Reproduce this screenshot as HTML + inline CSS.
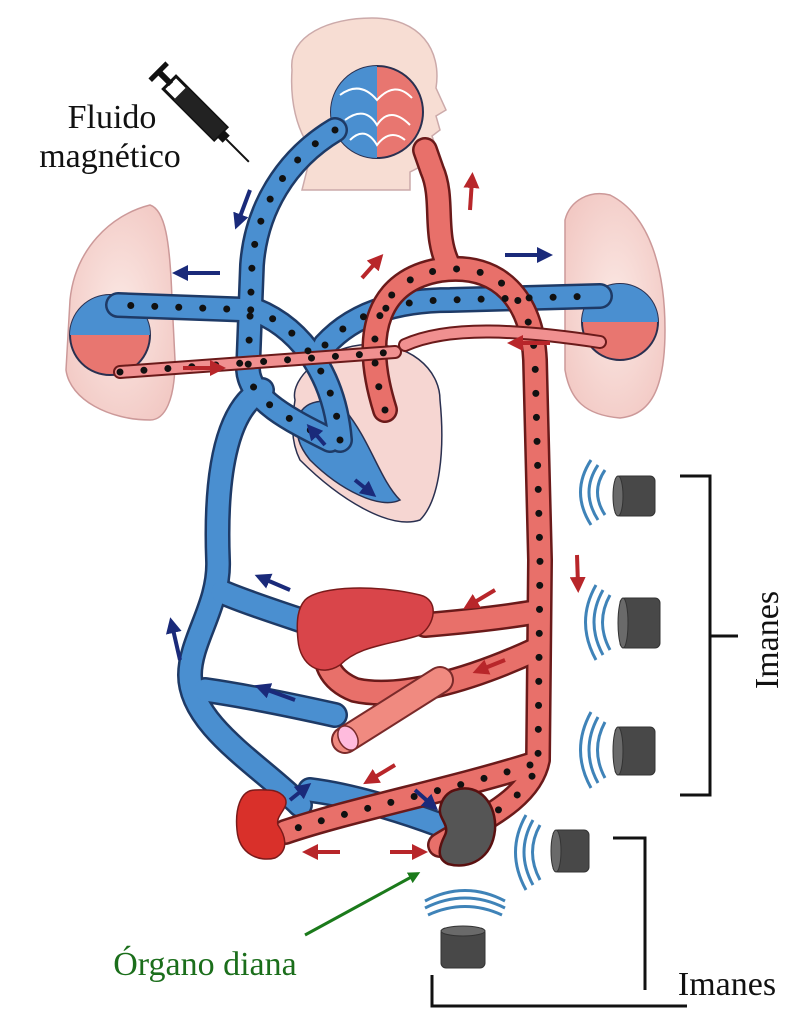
<!DOCTYPE html>
<html><head><meta charset="utf-8"><style>
html,body{margin:0;padding:0;background:#fff}
svg{display:block}
text{font-family:"Liberation Serif",serif}
</style></head><body>
<svg width="802" height="1024" viewBox="0 0 802 1024" xmlns="http://www.w3.org/2000/svg">
<defs>
<marker id="ab" markerWidth="4" markerHeight="4" refX="2" refY="2" orient="auto" markerUnits="strokeWidth"><path d="M0,0L4,2L0,4Z" fill="#1a2a7a"/></marker>
<marker id="ar" markerWidth="4" markerHeight="4" refX="2" refY="2" orient="auto" markerUnits="strokeWidth"><path d="M0,0L4,2L0,4Z" fill="#b8262a"/></marker>
<marker id="ag" markerWidth="4" markerHeight="4" refX="2" refY="2" orient="auto" markerUnits="strokeWidth"><path d="M0,0L4,2L0,4Z" fill="#1b7a1b"/></marker>
<radialGradient id="lung" cx="50%" cy="50%" r="60%"><stop offset="0" stop-color="#fbe8e4"/><stop offset="1" stop-color="#f2c9c4"/></radialGradient>
</defs>

<!-- lungs -->
<path d="M70,300 C75,250 110,215 150,205 C165,210 170,240 172,300 L175,360 C175,400 165,420 150,420 C110,420 70,400 66,370 Z" fill="url(#lung)" stroke="#c99" stroke-width="1.5"/>
<path d="M565,220 C570,200 590,190 610,195 C650,215 665,270 665,330 C665,390 650,415 620,418 C585,415 570,400 565,370 Z" fill="url(#lung)" stroke="#c99" stroke-width="1.5"/>

<!-- head -->
<path d="M292,70 C288,35 330,18 372,18 C420,18 442,50 436,88 L446,110 L436,116 L440,130 L432,136 L437,150 C430,163 418,168 410,172 L410,190 L302,190 L312,150 C296,130 290,100 292,70Z" fill="#f7ddd3" stroke="#caa" stroke-width="1.5"/>
<circle cx="377" cy="112" r="46" fill="#e87670" stroke="#2a3050" stroke-width="2"/>
<path d="M377,66 A46,46 0 0 0 377,158 Z" fill="#4a8fd0"/>
<path d="M340,95 Q360,80 377,100 Q395,80 412,98 M345,120 Q365,105 377,125 Q390,105 410,125 M350,140 Q365,125 377,145 Q390,128 405,140" fill="none" stroke="#fff" stroke-width="2"/>

<!-- lung capillary balls -->
<circle cx="110" cy="335" r="40" fill="#e87670" stroke="#2a3050" stroke-width="2"/>
<path d="M70,335 A40,40 0 0 1 150,335 Z" fill="#4a8fd0"/>
<circle cx="620" cy="322" r="38" fill="#e87670" stroke="#2a3050" stroke-width="2"/>
<path d="M582,322 A38,38 0 0 1 658,322 Z" fill="#4a8fd0"/>

<!-- heart -->
<path d="M295,400 C290,380 320,350 360,345 C410,340 440,370 440,400 C445,450 440,500 420,520 C390,530 340,500 300,460 C290,440 292,420 295,400Z" fill="#f6d6d2" stroke="#2a3050" stroke-width="1.5"/>
<path d="M298,420 C300,400 330,395 345,410 C370,440 380,480 400,500 C380,510 340,490 310,460 C298,445 296,435 298,420Z" fill="#4a8fd0" stroke="#2a3050" stroke-width="1.5"/>

<g fill="none" stroke-linecap="round" stroke-linejoin="round">
<!-- BLUE vessels outline -->
<g stroke="#1e3a66" stroke-width="26">
<path d="M335,130 C285,160 256,210 252,265 L248,370 C250,400 290,420 330,440"/>
<path d="M262,390 C225,410 215,480 218,560 C220,605 190,640 190,675 C190,725 260,765 300,805"/>
<path d="M300,620 C270,610 240,600 222,592"/>
<path d="M335,715 C290,705 240,695 205,690"/>
<path d="M340,440 C335,380 305,330 255,310 L118,305"/>
<path d="M325,345 C355,312 400,300 450,300 L600,296"/>
<path d="M440,825 C400,810 350,795 310,790"/>
</g>
<g stroke="#4a8fd0" stroke-width="21">
<path d="M335,130 C285,160 256,210 252,265 L248,370 C250,400 290,420 330,440"/>
<path d="M262,390 C225,410 215,480 218,560 C220,605 190,640 190,675 C190,725 260,765 300,805"/>
<path d="M300,620 C270,610 240,600 222,592"/>
<path d="M335,715 C290,705 240,695 205,690"/>
<path d="M340,440 C335,380 305,330 255,310 L118,305"/>
<path d="M325,345 C355,312 400,300 450,300 L600,296"/>
<path d="M440,825 C400,810 350,795 310,790"/>
</g>
<!-- RED vessels -->
<g stroke="#6a1a1a" stroke-width="26">
<path d="M385,410 C360,330 380,280 440,270 C500,262 532,300 535,360 L540,560 L538,760 C530,800 480,820 440,845"/>
<path d="M450,268 C432,235 445,200 432,170 L425,150"/>
<path d="M535,612 C500,618 460,622 425,625"/>
<path d="M535,650 C470,680 400,700 355,690 C330,680 320,660 330,640"/>
<path d="M530,765 C450,790 350,810 285,832"/>
</g>
<g stroke="#e8706a" stroke-width="21">
<path d="M385,410 C360,330 380,280 440,270 C500,262 532,300 535,360 L540,560 L538,760 C530,800 480,820 440,845"/>
<path d="M450,268 C432,235 445,200 432,170 L425,150"/>
<path d="M535,612 C500,618 460,622 425,625"/>
<path d="M535,650 C470,680 400,700 355,690 C330,680 320,660 330,640"/>
<path d="M530,765 C450,790 350,810 285,832"/>
</g>
<!-- thin pulmonary veins -->
<g stroke="#6a1a1a" stroke-width="14">
<path d="M120,372 L395,352"/><path d="M600,342 C520,330 450,325 405,345"/>
</g>
<g stroke="#f09090" stroke-width="10">
<path d="M120,372 L395,352"/><path d="M600,342 C520,330 450,325 405,345"/>
</g>
<!-- dots -->
<g stroke="#111" stroke-width="7" stroke-dasharray="0 24">
<path d="M335,130 C285,160 256,210 252,265 L248,370 C250,400 290,420 330,440"/>
<path d="M340,440 C335,380 305,330 255,310 L118,305"/>
<path d="M325,345 C355,312 400,300 450,300 L600,296"/>
<path d="M385,410 C360,330 380,280 440,270 C500,262 532,300 535,360 L540,560 L538,760 C530,800 480,820 440,845"/>
<path d="M120,372 L395,352"/>
<path d="M530,765 C450,790 350,810 285,832"/>
</g>
</g>

<!-- liver -->
<path d="M305,600 C320,585 380,585 420,595 C440,600 435,625 420,635 C390,645 360,645 340,665 C320,678 300,665 298,640 C296,620 298,608 305,600Z" fill="#d9454a" stroke="#7a1a1a" stroke-width="1.5"/>
<!-- intestine tube -->
<path d="M345,740 L440,680" stroke="#7a2a2a" stroke-width="28" stroke-linecap="round"/>
<path d="M345,740 L440,680" stroke="#f08a80" stroke-width="24" stroke-linecap="round"/>
<ellipse cx="348" cy="738" rx="9" ry="13" fill="#fbd" stroke="#7a2a2a" stroke-width="1.5" transform="rotate(-30 348 738)"/>
<!-- kidney -->
<path d="M255,790 C240,790 235,810 237,830 C239,855 260,862 275,858 C290,850 285,835 278,825 C275,815 290,808 285,798 C278,788 265,790 255,790Z" fill="#d9302a" stroke="#7a1a1a" stroke-width="1.5"/>
<!-- target organ -->
<path d="M455,790 C480,782 497,805 495,830 C492,858 470,870 448,864 C435,858 440,845 445,835 C450,825 438,818 440,808 C442,798 448,792 455,790Z" fill="#555" stroke="#5a1010" stroke-width="2.5"/>

<!-- syringe -->
<g transform="translate(205,118) rotate(45)">
<rect x="-50" y="-9" width="72" height="18" fill="#fff" stroke="#111" stroke-width="3"/>
<rect x="-35" y="-9" width="57" height="18" fill="#222"/>
<rect x="-64" y="-3" width="16" height="6" fill="#111"/>
<rect x="-68" y="-12" width="5" height="24" fill="#111"/>
<rect x="22" y="-5" width="8" height="10" fill="#111"/>
<line x1="30" y1="0" x2="62" y2="0" stroke="#111" stroke-width="2"/>
</g>

<!-- arrows -->
<g stroke-width="4" fill="none">
<path d="M250,190 L238,222" stroke="#1a2a7a" marker-end="url(#ab)"/>
<path d="M220,273 L180,273" stroke="#1a2a7a" marker-end="url(#ab)"/>
<path d="M505,255 L545,255" stroke="#1a2a7a" marker-end="url(#ab)"/>
<path d="M180,660 L172,625" stroke="#1a2a7a" marker-end="url(#ab)"/>
<path d="M290,590 L262,578" stroke="#1a2a7a" marker-end="url(#ab)"/>
<path d="M295,700 L262,688" stroke="#1a2a7a" marker-end="url(#ab)"/>
<path d="M290,800 L305,788" stroke="#1a2a7a" marker-end="url(#ab)"/>
<path d="M415,790 L432,805" stroke="#1a2a7a" marker-end="url(#ab)"/>
<path d="M325,445 L312,430" stroke="#1a2a7a" marker-end="url(#ab)"/>
<path d="M355,480 L370,492" stroke="#1a2a7a" marker-end="url(#ab)"/>
<path d="M362,278 L378,260" stroke="#b8262a" marker-end="url(#ar)"/>
<path d="M470,210 L472,180" stroke="#b8262a" marker-end="url(#ar)"/>
<path d="M183,368 L218,368" stroke="#b8262a" marker-end="url(#ar)"/>
<path d="M550,343 L515,343" stroke="#b8262a" marker-end="url(#ar)"/>
<path d="M577,555 L578,585" stroke="#b8262a" marker-end="url(#ar)"/>
<path d="M495,590 L470,605" stroke="#b8262a" marker-end="url(#ar)"/>
<path d="M505,660 L480,670" stroke="#b8262a" marker-end="url(#ar)"/>
<path d="M395,765 L370,780" stroke="#b8262a" marker-end="url(#ar)"/>
<path d="M340,852 L310,852" stroke="#b8262a" marker-end="url(#ar)"/>
<path d="M390,852 L420,852" stroke="#b8262a" marker-end="url(#ar)"/>
<path d="M305,935 L415,875" stroke="#1b7a1b" stroke-width="3" marker-end="url(#ag)"/>
</g>

<!-- magnets -->
<g id="mags">
<g fill="none" stroke="#3f83b8" stroke-width="3">
<path d="M605,470 Q590,492 605,515"/><path d="M598,465 Q580,492 598,520"/><path d="M591,460 Q570,492 591,525"/>
<path d="M610,595 Q595,622 610,650"/><path d="M603,590 Q585,622 603,655"/><path d="M596,585 Q575,622 596,660"/>
<path d="M605,722 Q590,750 605,778"/><path d="M598,717 Q580,750 598,783"/><path d="M591,712 Q570,750 591,788"/>
<path d="M540,825 Q525,852 540,880"/><path d="M533,820 Q515,852 533,885"/><path d="M526,815 Q505,852 526,890"/>
<path d="M428,915 Q465,898 502,915"/><path d="M425,908 Q465,888 505,908"/><path d="M425,901 Q465,880 505,901"/>
</g>
<g fill="#484848" stroke="#333">
<rect x="615" y="476" width="40" height="40" rx="5"/><ellipse cx="618" cy="496" rx="5" ry="20" fill="#6a6a6a"/>
<rect x="620" y="598" width="40" height="50" rx="5"/><ellipse cx="623" cy="623" rx="5" ry="25" fill="#6a6a6a"/>
<rect x="615" y="727" width="40" height="48" rx="5"/><ellipse cx="618" cy="751" rx="5" ry="24" fill="#6a6a6a"/>
<rect x="553" y="830" width="36" height="42" rx="5"/><ellipse cx="556" cy="851" rx="5" ry="21" fill="#6a6a6a"/>
<rect x="441" y="928" width="44" height="40" rx="5"/><ellipse cx="463" cy="931" rx="22" ry="5" fill="#6a6a6a"/>
</g>
</g>

<!-- brackets -->
<g fill="none" stroke="#111" stroke-width="3">
<path d="M680,476 L710,476 L710,795 L680,795 M710,636 L738,636"/>
<path d="M613,838 L645,838 L645,990"/>
<path d="M432,975 L432,1006 L687,1006"/>
</g>

<text x="112" y="128" font-size="34" text-anchor="middle" fill="#111">Fluido</text>
<text x="110" y="167" font-size="34" text-anchor="middle" fill="#111">magnético</text>
<text x="205" y="975" font-size="34" text-anchor="middle" fill="#1b6e1b">Órgano diana</text>
<text x="727" y="995" font-size="34" text-anchor="middle" fill="#111">Imanes</text>
<text transform="translate(778,640) rotate(-90)" font-size="34" text-anchor="middle" fill="#111">Imanes</text>
</svg>
</body></html>
